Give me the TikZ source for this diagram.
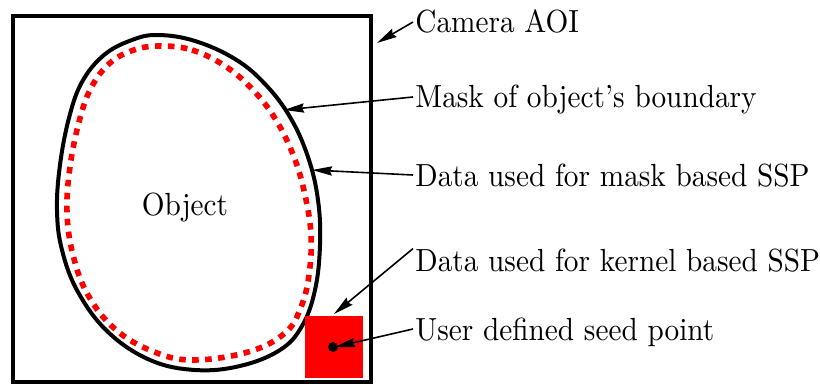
\documentclass[tikz,border=0pt]{standalone}
\usepackage{fontspec}
\setmainfont{lmroman10-regular.otf}[FakeStretch=0.915]
\usepackage{tikz}
\usetikzlibrary{arrows.meta}
\usepackage{xcolor}

\begin{document}
\begin{tikzpicture}[x=0.5pt, y=-0.5pt,
    tag/.style={anchor=base west, inner xsep=1pt, inner ysep=0pt,
        text height=11pt, text depth=0pt, font=\fontsize{16}{19}\selectfont},
    pointer/.style={line width=0.8pt, -{Stealth[length=10pt,width=4.6pt,inset=1pt]}}]
    \useasboundingbox (0,0) rectangle (820,385);

    % Camera AOI
    \draw[line width=2pt] (12.5,16) rectangle (371,381.5);

    % Object boundary
    \draw[line width=2pt] plot[smooth cycle, tension=0.65] coordinates {
        (158,35) (195,41) (235,59) (265,84) (290,117) (308,157) (318,200)
        (320,245) (315,290) (302,326) (280,350) (240,366) (195,370) (150,360)
        (108,332) (78,292) (62,250) (57,210) (60,165) (69,118) (82,82)
        (104,55) (132,40)};

    % Data for mask based SSP
    \draw[red, line width=2.8pt, dash pattern=on 3.3pt off 3.2pt]
        plot[smooth cycle, tension=0.65] coordinates {
        (160,46) (192,50) (225,66) (253,90) (276,120) (294,157) (305,195)
        (311,235) (309,275) (301,307) (285,333) (248,352) (192,360) (152,351)
        (115,329) (88,295) (73,255) (67,212) (70,167) (79,122) (91,88)
        (110,63) (134,50)};

    \node[font=\fontsize{16}{19}\selectfont, anchor=base, inner sep=0pt] (obj) at (185,215) {Object};

    % Kernel and seed point
    \fill[red] (305,316) rectangle (363,378);
    \fill[black] (333,347) circle (2.5pt);

    % Labels
    \node[tag] (cam) at (413,33) {Camera AOI};
    \node[tag] (mask) at (413,108) {Mask of object’s boundary};
    \node[tag] (maskdata) at (413,186) {Data used for mask based SSP};
    \node[tag] (kerneldata) at (413,271) {Data used for kernel based SSP};
    \node[tag] (seed) at (413,340) {User defined seed point};

    % Arrow tips
    \coordinate (camtip) at (377,43);
    \coordinate (masktip) at (284,110);
    \coordinate (maskdatatip) at (312,170);
    \coordinate (kerneltip) at (334,314);
    \coordinate (seedtip) at (335,347);

    \draw[pointer] (cam.west) -- (camtip);
    \draw[pointer] (mask.west) -- (masktip);
    \draw[pointer] (maskdata.west) -- (maskdatatip);
    \draw[pointer] (kerneldata.north west) -- (kerneltip);
    \draw[pointer] (seed.west) -- (seedtip);
\end{tikzpicture}
\end{document}
